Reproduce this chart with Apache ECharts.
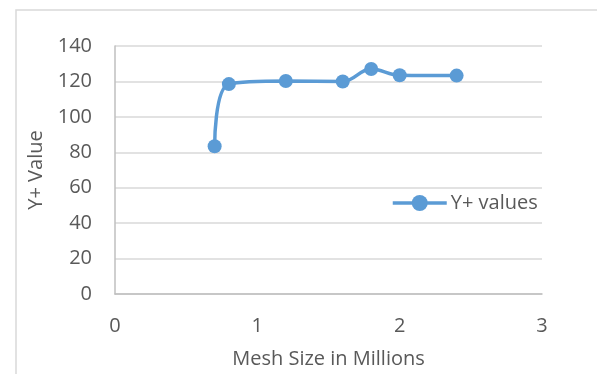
<!DOCTYPE html>
<html>
<head>
<meta charset="utf-8">
<script src="https://cdn.jsdelivr.net/npm/echarts@6/dist/echarts.min.js"></script>
<style>
  html, body { margin: 0; padding: 0; background: #fff; }
  #chart { width: 597px; height: 374px; }
</style>
</head>
<body>
<div id="chart"></div>
<script>
// Mesh size (millions of cells) against the resulting Y+ value
const meshSize = [0.7, 0.8, 1.2, 1.6, 1.8, 2.0, 2.4];
const yPlus = [83.4, 118.5, 120.2, 120.0, 127.0, 123.5, 123.3];
const seriesName = 'Y+ values';
const xTitle = 'Mesh Size in Millions';
const yTitle = 'Y+ Value';

const textColor = '#595959';
const fontFamily = '"Open Sans", "Liberation Sans", sans-serif';
const fontSize = 20;
const lineColor = '#5b9bd5';

const chart = echarts.init(document.getElementById('chart'));
chart.setOption({
  animation: false,
  backgroundColor: '#ffffff',
  graphic: [{
    type: 'rect',
    shape: { x: 16, y: 10, width: 700, height: 500 },
    style: { fill: 'none', stroke: '#d9d9d9', lineWidth: 1.5 },
    silent: true,
    z: -1
  }],
  grid: { left: 115, right: 55, top: 46, bottom: 79 },
  legend: {
    data: [seriesName],
    left: 386,
    top: 188,
    itemWidth: 54,
    itemHeight: 20,
    itemGap: 4,
    lineStyle: { width: 3.5 },
    textStyle: { color: textColor, fontSize: fontSize, fontFamily: fontFamily, padding: [0, 0, 0, -1] }
  },
  xAxis: {
    type: 'value',
    min: 0, max: 3, interval: 1,
    name: xTitle,
    nameLocation: 'middle',
    nameGap: 55,
    nameTextStyle: { color: textColor, fontSize: fontSize, fontFamily: fontFamily },
    axisLine: { show: true, lineStyle: { color: '#bfbfbf', width: 1.5 } },
    axisTick: { show: false },
    axisLabel: { color: textColor, fontSize: fontSize, fontFamily: fontFamily, margin: 22 },
    splitLine: { show: false }
  },
  yAxis: {
    type: 'value',
    min: 0, max: 140, interval: 20,
    name: yTitle,
    nameLocation: 'middle',
    nameGap: 66,
    nameTextStyle: { color: textColor, fontSize: fontSize, fontFamily: fontFamily },
    axisLine: { show: true, lineStyle: { color: '#bfbfbf', width: 1.5 } },
    axisTick: { show: false },
    axisLabel: { color: textColor, fontSize: fontSize, fontFamily: fontFamily, margin: 23 },
    splitLine: { show: true, lineStyle: { color: '#d9d9d9', width: 1.5 } }
  },
  series: [{
    name: seriesName,
    type: 'line',
    smooth: 0.4,
    data: meshSize.map((x, i) => [x, yPlus[i]]),
    symbol: 'circle',
    symbolSize: 14,
    lineStyle: { color: lineColor, width: 3.5 },
    itemStyle: { color: lineColor }
  }]
});
</script>
</body>
</html>
